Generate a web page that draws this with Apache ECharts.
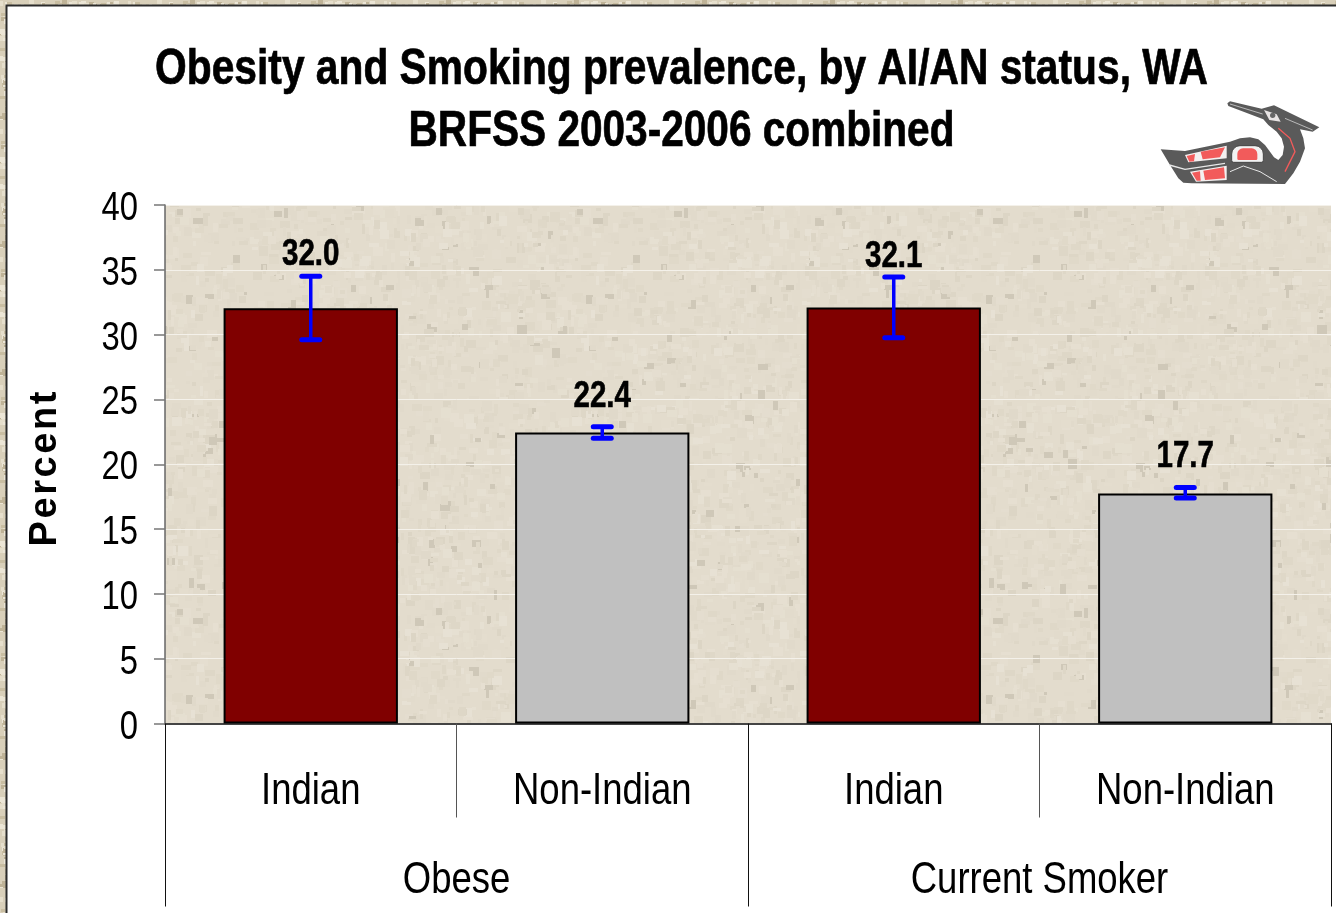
<!DOCTYPE html>
<html><head><meta charset="utf-8">
<style>html,body{margin:0;padding:0;background:#d9d0ba;overflow:hidden}#c{width:1336px;height:913px}</style>
<script src="https://cdn.jsdelivr.net/npm/echarts@6/dist/echarts.min.js"></script>
</head><body><div id="c"></div>
<script>
const groups = ['Obese', 'Current Smoker'];
const categories = ['Indian', 'Non-Indian', 'Indian', 'Non-Indian'];
const values = [32.04, 22.44, 32.1, 17.74];
const errorLow = [29.6, 22.0, 29.75, 17.4];
const errorHigh = [34.5, 22.9, 34.45, 18.2];
const yTicks = [0, 40, 5];

const FONT = '"Liberation Sans Narrow","Liberation Sans",sans-serif';
const labelGap = [21, 30, 20, 31];

// The reference uses a condensed face: draw the narrow family with a horizontal squeeze.
['fillText', 'strokeText'].forEach(fn => {
  const orig = CanvasRenderingContext2D.prototype[fn];
  CanvasRenderingContext2D.prototype[fn] = function (t, x, y, m) {
    if (t === 'Percent') {
      this.save(); this.letterSpacing = '2.6px';
      orig.call(this, t, x, y); this.restore(); return;
    }
    if (!this.font.includes('Narrow')) return orig.call(this, t, x, y, m);
    this.save(); this.translate(x, y); this.scale(0.82, 1);
    orig.call(this, t, 0, 0); this.restore();
  };
});

function texture(size, base, specks, count, maxW) {
  const c = document.createElement('canvas'); c.width = c.height = size;
  const g = c.getContext('2d'); g.fillStyle = base; g.fillRect(0, 0, size, size);
  let s = 12345; const r = () => (s = (s * 1103515245 + 12345) & 0x7fffffff) / 0x7fffffff;
  for (let i = 0; i < count; i++) {
    g.fillStyle = specks[Math.floor(r() * specks.length)];
    const w = 3 + Math.floor(r() * maxW), h = 3 + Math.floor(r() * maxW);
    g.fillRect(Math.floor(r() * size), Math.floor(r() * size), w, h);
  }
  return c;
}
const panelTex = texture(400, '#e3dccd', ['#e6dfd1', '#e0d9c9', '#e7e1d4', '#ddd6c6', '#e1dacb', '#e5dfd0', '#dfd8c8', '#e4ddce', '#dcd5c5', '#e1dacb', '#e6dfd1', '#dfd8c8', '#e2dbcc', '#e6e0d2', '#e0d9ca', '#e4ddcf', '#ded7c7', '#e5ded0', '#e1dacb', '#cfc8b8'], 2400, 8);
const pageTex = texture(128, '#d9d0ba', ['#c9bea2', '#e6dfcc', '#bfb397', '#ece6d6'], 700, 3);

const chart = echarts.init(document.getElementById('c'), null, {renderer: 'canvas'});
const G = {left: 165, top: 205, width: 1166, height: 518.5};

const birdBody = [[92,208],[165,213],[300,185],[330,175],[360,172],[385,178],[405,195],[420,215],[432,232],[445,240],[458,225],[462,200],[455,175],[440,155],[415,135],[400,118],[295,78],[292,70],[300,64],[395,86],[432,76],[568,142],[548,155],[510,148],[520,175],[525,205],[510,245],[490,280],[465,312],[185,310],[160,308],[145,295],[120,255]];

const option = {
  animation: false,
  backgroundColor: 'transparent',
  title: [
    {text: 'Obesity and Smoking prevalence, by AI/AN status, WA', left: 676.5, top: 40, textAlign: 'center',
     textStyle: {fontFamily: FONT, fontWeight: 'bold', fontSize: 49.7, color: '#000', textBorderColor: '#000', textBorderWidth: 0.7}},
    {text: 'BRFSS 2003-2006 combined', left: 676.5, top: 102, textAlign: 'center',
     textStyle: {fontFamily: FONT, fontWeight: 'bold', fontSize: 49.5, color: '#000', textBorderColor: '#000', textBorderWidth: 0.7}}
  ],
  graphic: [
    {type: 'rect', z: -10, silent: true, shape: {x: 0, y: 0, width: 1336, height: 913}, style: {fill: {image: pageTex, repeat: 'repeat'}}},
    {type: 'rect', z: -9, silent: true, shape: {x: 6.5, y: 5.5, width: 1340, height: 920}, style: {fill: '#fff', stroke: '#2b2b2b', lineWidth: 2}},
    {type: 'rect', z: -8, silent: true, shape: {x: G.left, y: G.top, width: G.width, height: G.height}, style: {fill: {image: panelTex, repeat: 'repeat'}}},
    {type: 'group', x: 1130, y: 80, scaleX: 1/3, scaleY: 1/3, silent: true, children: [
      {type: 'polygon', shape: {points: birdBody}, style: {fill: '#5a5a5a'}},
      {type: 'polygon', shape: {points: [[165,225],[290,197],[290,235],[175,247]]}, style: {fill: '#f4f0f0'}},
      {type: 'polygon', shape: {points: [[170,228],[195,222],[192,244],[178,245]]}, style: {fill: '#f25b5b'}},
      {type: 'polygon', shape: {points: [[212,215],[285,202],[270,232],[218,238]]}, style: {fill: '#f25b5b'}},
      {type: 'polygon', shape: {points: [[180,275],[290,257],[290,300],[198,305]]}, style: {fill: '#f4f0f0'}},
      {type: 'polygon', shape: {points: [[186,278],[210,274],[212,302],[200,302]]}, style: {fill: '#f25b5b'}},
      {type: 'polygon', shape: {points: [[220,272],[282,262],[285,295],[225,300]]}, style: {fill: '#f25b5b'}},
      {type: 'polyline', shape: {points: [[118,255],[165,268],[285,250]]}, style: {stroke: '#e8e8e8', lineWidth: 4, fill: 'none'}},
      {type: 'rect', shape: {x: 305, y: 197, width: 95, height: 50, r: [25,25,6,6]}, style: {fill: '#f2f2f2', stroke: '#444', lineWidth: 3}},
      {type: 'rect', shape: {x: 322, y: 205, width: 60, height: 35, r: [17,17,4,4]}, style: {fill: '#f25b5b'}},
      {type: 'polyline', shape: {points: [[300,275],[340,258],[390,275],[440,305]]}, style: {stroke: '#e8e8e8', lineWidth: 3, fill: 'none'}},
      {type: 'polygon', shape: {points: [[402,90],[440,103],[452,125],[418,120]]}, style: {fill: '#e8e4e4'}},
      {type: 'circle', shape: {cx: 428, cy: 106, r: 8}, style: {fill: '#666'}},
      {type: 'polyline', shape: {points: [[445,145],[480,175],[495,215],[465,275]]}, style: {stroke: '#f25b5b', lineWidth: 4, fill: 'none'}},
      {type: 'polyline', shape: {points: [[300,72],[398,102]]}, style: {stroke: '#e8e8e8', lineWidth: 2, fill: 'none'}},
      {type: 'polyline', shape: {points: [[465,115],[548,150]]}, style: {stroke: '#e8e8e8', lineWidth: 2, fill: 'none'}}
    ]}
  ],
  grid: {left: G.left, top: G.top, width: G.width, height: G.height, containLabel: false},
  xAxis: [
    {type: 'category', data: categories, position: 'bottom',
     axisLine: {show: true, lineStyle: {color: '#444', width: 2}},
     axisTick: {show: true, length: 94, lineStyle: {color: '#555', width: 1}},
     axisLabel: {color: '#000', fontFamily: FONT, fontSize: 44.5, margin: 46, interval: 0, lineHeight: 44},
     splitLine: {show: false}},
    {type: 'category', data: groups, position: 'bottom',
     axisLine: {show: false},
     axisTick: {show: true, length: 183, lineStyle: {color: '#111', width: 1}},
     axisLabel: {color: '#000', fontFamily: FONT, fontSize: 44.5, margin: 135, interval: 0, lineHeight: 44},
     splitLine: {show: false}}
  ],
  yAxis: {
    type: 'value', min: yTicks[0], max: yTicks[1], interval: yTicks[2],
    name: 'Percent', nameLocation: 'middle', nameGap: 100, nameRotate: 90,
    nameTextStyle: {fontFamily: '"Liberation Sans",sans-serif', fontWeight: 'bold', fontSize: 38, color: '#000', padding: [0, 7, 0, 0]},
    axisLine: {show: true, lineStyle: {color: '#666', width: 1.5}},
    axisTick: {show: true, length: 11, lineStyle: {color: '#777', width: 1.5}},
    axisLabel: {margin: 27, formatter: v => `{t|${v}}`,
      rich: {t: {color: '#000', fontFamily: FONT, fontSize: 40, padding: [8, 0, 0, 0]}}},
    splitLine: {show: true, lineStyle: {color: '#f4f1ea', width: 1}}
  },
  series: [
    {type: 'bar', data: values.map((v, i) => ({value: v, itemStyle: {color: i % 2 ? '#c0c0c0' : '#800000'}})),
     barWidth: '59.8%', itemStyle: {borderColor: '#000', borderWidth: 2}},
    {type: 'custom', z: 5, silent: true, data: values.map((v, i) => [i, errorLow[i], errorHigh[i], v]),
     encode: {x: 0, y: [1, 2]},
     renderItem(params, api) {
       const i = api.value(0);
       const lo = api.coord([i, api.value(1)]), hi = api.coord([i, api.value(2)]);
       const s = {stroke: '#0000ff', lineWidth: 5, lineCap: 'round'};
       const capH = 9;
       return {type: 'group', children: [
         {type: 'line', shape: {x1: lo[0], y1: lo[1], x2: hi[0], y2: hi[1]}, style: {stroke: '#0000ff', lineWidth: 3.5}},
         {type: 'line', shape: {x1: lo[0]-capH, y1: lo[1], x2: lo[0]+capH, y2: lo[1]}, style: s},
         {type: 'line', shape: {x1: hi[0]-capH, y1: hi[1], x2: hi[0]+capH, y2: hi[1]}, style: s},
         {type: 'text', x: hi[0], y: hi[1] - labelGap[i], style: {text: api.value(3).toFixed(1), fill: '#000', stroke: '#000', lineWidth: 0.6, font: 'bold 36px ' + FONT, textAlign: 'center', textVerticalAlign: 'middle'}}
       ]};
     }}
  ]
};
chart.setOption(option);
</script></body></html>
